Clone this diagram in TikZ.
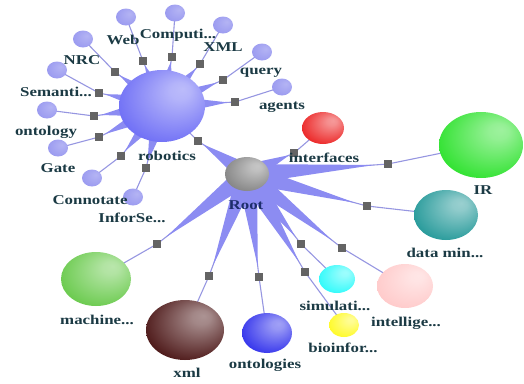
\documentclass[tikz,border=0pt]{standalone}
\usepackage{fontspec}
\setmainfont{Liberation Serif}[FakeStretch=1.25]
\usetikzlibrary{shapes.geometric,calc}
\pgfdeclarelayer{bg}
\pgfsetlayers{bg,main}
\colorlet{sphc}{blue}
\pgfdeclareradialshading[sphc]{sphere}{\pgfpoint{12bp}{12bp}}{color(0bp)=(sphc!45!white); color(6bp)=(sphc!50!white); color(34bp)=(sphc); color(50bp)=(sphc!85!black)}
\pgfdeclareradialshading[sphc]{flatsphere}{\pgfpoint{10bp}{10bp}}{color(0bp)=(sphc!75!white); color(30bp)=(sphc); color(50bp)=(sphc!92!black)}
\definecolor{wedgec}{RGB}{140,140,242}
\definecolor{linec}{RGB}{150,150,225}
\definecolor{sqc}{RGB}{100,100,100}
\definecolor{labc}{RGB}{27,58,68}
\definecolor{rootc}{RGB}{29,45,107}
\definecolor{cRob}{RGB}{105,105,245}
\definecolor{cRoot}{RGB}{128,128,128}
\definecolor{cInt}{RGB}{235,30,30}
\definecolor{cIR}{RGB}{40,225,40}
\definecolor{cDM}{RGB}{30,150,150}
\definecolor{cInl}{RGB}{255,200,200}
\definecolor{cSim}{RGB}{40,250,250}
\definecolor{cBio}{RGB}{255,250,30}
\definecolor{cOnt}{RGB}{45,45,235}
\definecolor{cXml}{RGB}{70,15,15}
\definecolor{cMac}{RGB}{100,200,70}
\definecolor{cSat}{RGB}{155,155,240}
\newcommand\spike[3]{\fill[wedgec] ($(#1.center)!#3!90:(#2.center)$) -- ($(#1.center)!0.9!(#2.center)$) -- ($(#1.center)!#3!-90:(#2.center)$) -- cycle;}
\tikzset{
  orb/.style n args={3}{ellipse, inner sep=0pt, minimum width=#2, minimum height=#3, shade, shading=sphere, /utils/exec={\colorlet{sphc}{#1}}},
  sat/.style={orb={cSat}{20}{17}, shading=flatsphere},
  sqbox/.style={rectangle, fill=sqc, minimum size=8, inner sep=0pt},
  lab/.style={text=labc, font=\fontsize{13.5}{13.5}\selectfont\bfseries, inner sep=0pt},
  conn/.style={linec, line width=1.1pt},
}
\begin{document}
\begin{tikzpicture}[x=1pt,y=-1pt]
\useasboundingbox (0,0) rectangle (524,383);
% hubs and children
\node[orb={cRob}{86}{72}] (rob) at (162,106) {};
\node[orb={cRoot}{44}{34}] (root) at (247,174) {};
\node[orb={cInt}{42}{32}] (int) at (323,128) {};
\node[orb={cIR}{84}{66}] (ir) at (481,145) {};
\node[orb={cDM}{64}{50}] (dm) at (446,215) {};
\node[orb={cInl}{56}{44}] (inl) at (405,286) {};
\node[orb={cSim}{36}{28}] (sim) at (337,279) {};
\node[orb={cBio}{30}{24}] (bio) at (344,325) {};
\node[orb={cOnt}{50}{40}] (ont) at (267,333) {};
\node[orb={cXml}{78}{60}] (xml) at (185,330) {};
\node[orb={cMac}{70}{54}] (mac) at (96,279) {};
% satellites
\node[sat] (web) at (126,17) {};
\node[sat] (comp) at (175,13) {};
\node[sat] (xmlS) at (223,25) {};
\node[sat] (nrc) at (83,39) {};
\node[sat] (query) at (262,52) {};
\node[sat] (sem) at (57,70) {};
\node[sat] (agents) at (282,87) {};
\node[sat] (onty) at (47,110) {};
\node[sat] (gate) at (58,148) {};
\node[sat] (conn) at (92,178) {};
\node[sat] (infs) at (133,197) {};
% squares
\node[sqbox] (s-web) at (143,61) {};
\node[sqbox] (s-comp) at (172,57) {};
\node[sqbox] (s-xmlS) at (200,64) {};
\node[sqbox] (s-nrc) at (115,72) {};
\node[sqbox] (s-query) at (223,80) {};
\node[sqbox] (s-sem) at (99,93) {};
\node[sqbox] (s-agents) at (235,102) {};
\node[sqbox] (s-onty) at (94,116) {};
\node[sqbox] (s-gate) at (99,137) {};
\node[sqbox] (s-conn) at (121,156) {};
\node[sqbox] (s-infs) at (146,168) {};
\node[sqbox] (s-rob) at (198,141) {};
\node[sqbox] (s-int) at (294,153) {};
\node[sqbox] (s-ir) at (388,164) {};
\node[sqbox] (s-dm) at (367,206) {};
\node[sqbox] (s-inl) at (342,248) {};
\node[sqbox] (s-sim) at (301,244) {};
\node[sqbox] (s-bio) at (305,272) {};
\node[sqbox] (s-ont) at (259,277) {};
\node[sqbox] (s-xml) at (209,276) {};
\node[sqbox] (s-mac) at (157,244) {};
% connectors and spikes
\begin{pgfonlayer}{bg}
\foreach \c in {web,comp,xmlS,nrc,query,sem,agents,onty,gate,conn,infs}{
  \draw[conn] (rob.center) -- (s-\c.center) -- (\c.center);
}
\foreach \c in {rob,int,ir,dm,inl,sim,bio,ont,xml,mac}{
  \draw[conn] (root.center) -- (s-\c.center) -- (\c.center);
}
\foreach \c in {web,comp,xmlS,nrc,query,sem,agents,onty,gate,conn,infs}{
  \spike{rob}{s-\c}{11pt}
}
\foreach \c in {rob,int,ir,dm,inl,sim,bio,ont,xml,mac}{
  \spike{root}{s-\c}{10pt}
}
\end{pgfonlayer}
% labels
\node[lab] (l-web) at (123,40) {Web};
\node[lab] (l-comp) at (178,35) {Computi...};
\node[lab] (l-xmlS) at (223,47) {XML};
\node[lab] (l-nrc) at (82,60) {NRC};
\node[lab] (l-query) at (261,73) {query};
\node[lab] (l-sem) at (56,92) {Semanti...};
\node[lab] (l-agents) at (282,107) {agents};
\node[lab] (l-onty) at (46,132) {ontology};
\node[lab] (l-rob) at (167,156) {robotics};
\node[lab] (l-gate) at (58,168) {Gate};
\node[lab] (l-conn) at (90,200) {Connotate};
\node[lab] (l-infs) at (132,218) {InforSe...};
\node[lab, text=rootc] (l-root) at (246,205) {Root};
\node[lab] (l-int) at (324,158) {interfaces};
\node[lab] (l-ir) at (483,190) {IR};
\node[lab] (l-dm) at (445,253) {data min...};
\node[lab] (l-inl) at (406,323) {intellige...};
\node[lab] (l-sim) at (335,306) {simulati...};
\node[lab] (l-bio) at (343,348) {bioinfor...};
\node[lab] (l-ont) at (265,365) {ontologies};
\node[lab] (l-xml) at (187,373) {xml};
\node[lab] (l-mac) at (97,320) {machine...};
\end{tikzpicture}
\end{document}
